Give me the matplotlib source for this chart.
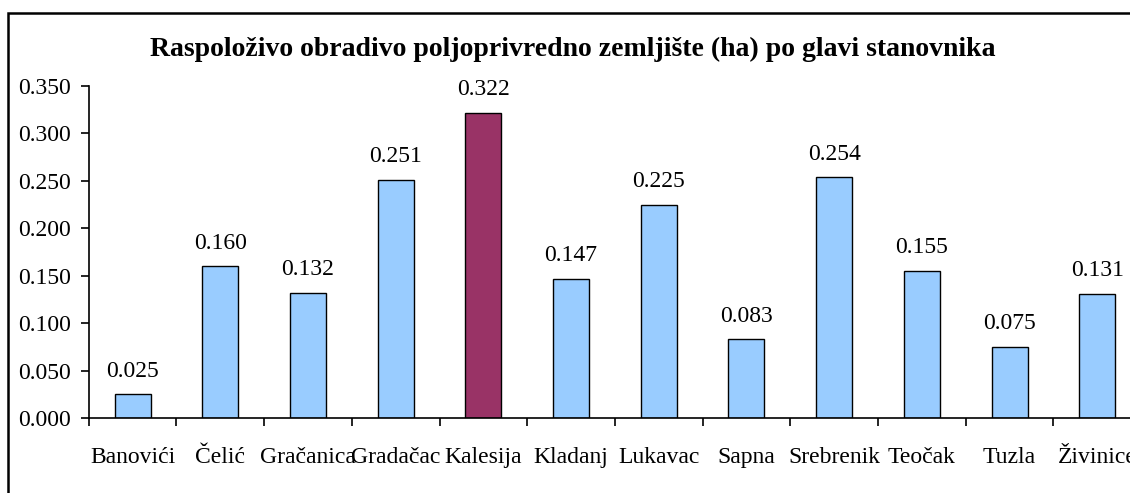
import matplotlib
matplotlib.use("Agg")
import matplotlib.pyplot as plt
from matplotlib.patches import Rectangle
from matplotlib.ticker import FixedLocator, MultipleLocator, FormatStrFormatter

plt.rcParams["font.family"] = ["Liberation Serif", "DejaVu Serif"]

municipalities = ["Banovići", "Čelić", "Gračanica", "Gradačac", "Kalesija", "Kladanj",
                  "Lukavac", "Sapna", "Srebrenik", "Teočak", "Tuzla", "Živinice"]
land_per_capita = [0.025, 0.160, 0.132, 0.251, 0.322, 0.147,
                   0.225, 0.083, 0.254, 0.155, 0.075, 0.131]
highlight = "Kalesija"

BLUE = "#99CCFF"
PURPLE = "#993366"

fig = plt.figure(figsize=(11.3, 4.93), dpi=100)
ax = fig.add_axes([88.7 / 1130, 1 - 418 / 493, 1052.4 / 1130, 332 / 493])

x = list(range(len(municipalities)))
colors = [PURPLE if m == highlight else BLUE for m in municipalities]
bars = ax.bar(x, land_per_capita, width=0.41, color=colors, edgecolor="black", linewidth=1.0)

for bar, val in zip(bars, land_per_capita):
    ax.annotate(f"{val:.3f}", (bar.get_x() + bar.get_width() / 2, val),
                xytext=(0, 9), textcoords="offset points",
                ha="center", va="bottom", fontsize=17)

ax.set_xlim(-0.5, len(municipalities) - 0.5)
ax.set_ylim(0, 0.35)
ax.yaxis.set_major_locator(MultipleLocator(0.05))
ax.yaxis.set_major_formatter(FormatStrFormatter("%.3f"))

ax.set_xticks(x)
ax.set_xticklabels(municipalities)
ax.xaxis.set_minor_locator(FixedLocator([i - 0.5 for i in range(len(municipalities) + 1)]))
ax.tick_params(axis="x", which="major", length=0, pad=21, labelsize=17)
ax.tick_params(axis="x", which="minor", length=6, width=1.2, direction="out")
ax.tick_params(axis="y", length=6, width=1.2, direction="out", pad=7, labelsize=17)

for side in ["top", "right"]:
    ax.spines[side].set_visible(False)
for side in ["left", "bottom"]:
    ax.spines[side].set_linewidth(1.2)

fig.text(573 / 1130, 1 - 49 / 493, "Raspoloživo obradivo poljoprivredno zemljište (ha) po glavi stanovnika",
         ha="center", va="center", fontsize=20, fontweight="bold")

# chart frame, only left and top edges fall inside the picture
fig.patches.append(Rectangle((8 / 1130, -0.2), 1.5, 1.2 - 13 / 493, transform=fig.transFigure,
                             fill=False, edgecolor="black", linewidth=1.8, clip_on=False))

fig.savefig("out.png", dpi=100)
